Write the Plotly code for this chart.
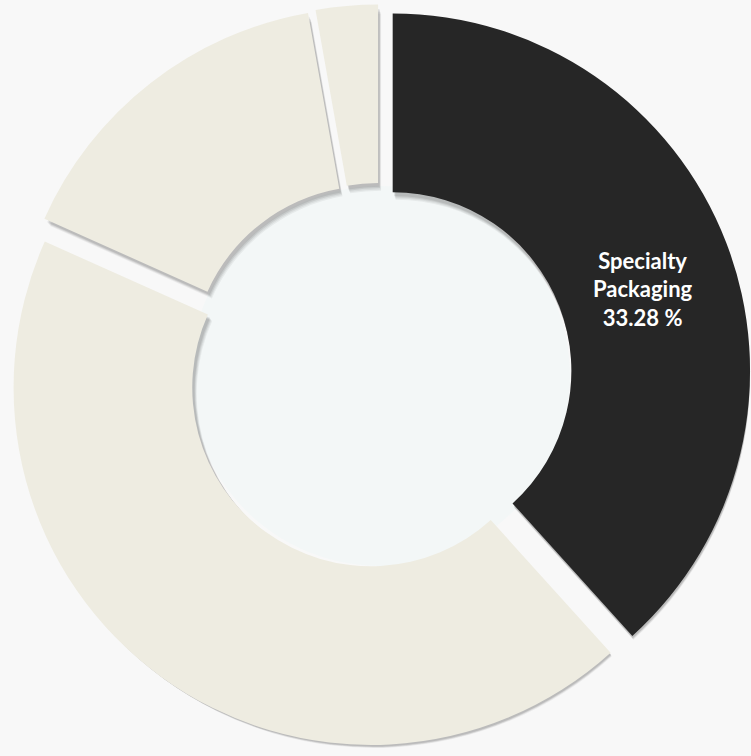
import plotly.graph_objects as go

# Slice values (shares) and the label shown on the dark slice
segments = ["Specialty Packaging", "Segment B", "Segment C", "Segment D"]
shares = [38.3, 43.4, 15.5, 2.8]
slice_text = ["\u00a0<br>Specialty<br>Packaging<br>33.28 %", "", "", ""]
slice_colors = ["#262626", "#EEECE1", "#EEECE1", "#EEECE1"]

W, H = 751, 756
CX, CY = 380, 376      # pie centre in pixels
R = 358                # outer radius in pixels
PULL = 0.04
HOLE = 0.5


def pie_domain(dx=0, dy=0):
    half = R * (1 + PULL)
    x0 = max(0.0, (CX + dx - half) / W)
    x1 = min(1.0, (CX + dx + half) / W)
    y0 = max(0.0, 1 - (CY + dy + half) / H)
    y1 = min(1.0, 1 - (CY + dy - half) / H)
    return dict(x=[x0, x1], y=[y0, y1])


fig = go.Figure()

# soft drop shadow: a few offset translucent copies behind the pie
for off, alpha in [(6, 0.05), (5, 0.06), (4, 0.08), (3, 0.08)]:
    fig.add_trace(go.Pie(
        labels=segments, values=shares, sort=False, direction="clockwise",
        hole=HOLE, pull=PULL, domain=pie_domain(off, off),
        marker=dict(colors=["rgba(0,0,0,%s)" % alpha] * len(shares), line=dict(width=0)),
        textinfo="none", hoverinfo="skip", showlegend=False,
    ))

fig.add_trace(go.Pie(
    labels=segments, values=shares, sort=False, direction="clockwise",
    hole=HOLE, pull=PULL, domain=pie_domain(),
    marker=dict(colors=slice_colors, line=dict(width=0)),
    text=slice_text, textinfo="text", textposition="inside",
    insidetextorientation="horizontal",
    textfont=dict(family="Lato", size=22, color="#FFFFFF", weight="bold"),
    hoverinfo="label+percent", showlegend=False,
))

# faint bluish tint of the background seen through the hole
fig.add_shape(type="circle", xref="paper", yref="paper", layer="below",
              x0=(CX - 190) / W, x1=(CX + 190) / W,
              y0=1 - (CY + 190) / H, y1=1 - (CY - 190) / H,
              fillcolor="#F3F7F7", line=dict(width=0))

fig.update_layout(
    width=W, height=H,
    margin=dict(l=0, r=0, t=0, b=0),
    paper_bgcolor="#F8F8F8",
    plot_bgcolor="#F8F8F8",
    showlegend=False,
)

# drop the default page margin so the figure fills the window exactly
fig.write_html("out.html", config={"displayModeBar": False},
               post_script="document.body.style.margin='0';document.body.style.overflow='hidden';")
